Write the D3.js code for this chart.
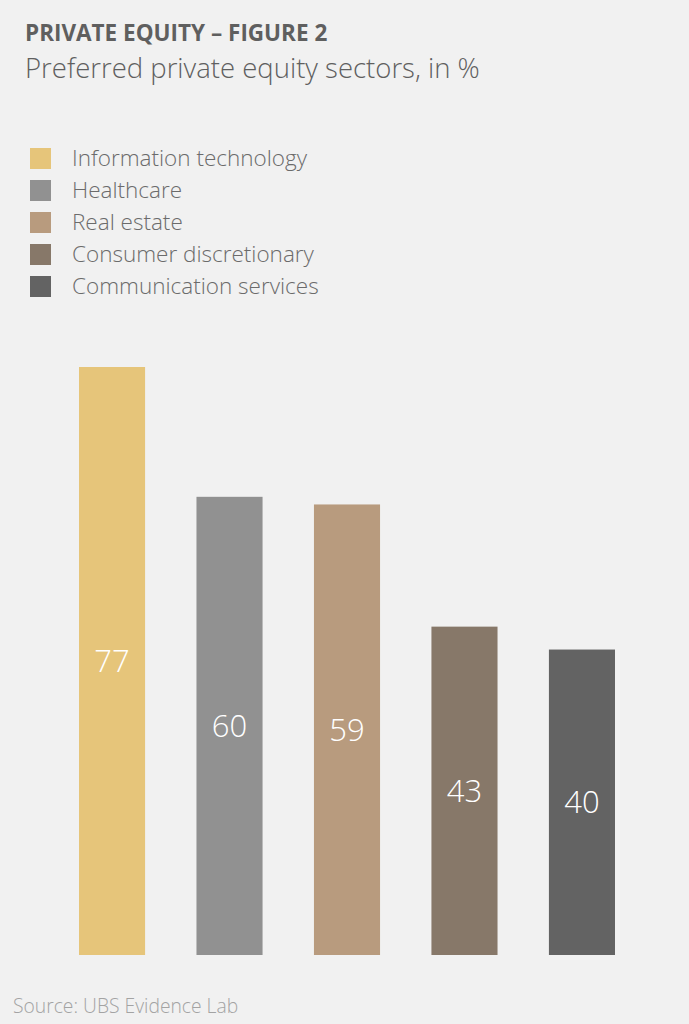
<!DOCTYPE html>
<html>
<head>
<meta charset="utf-8">
<script src="https://cdn.jsdelivr.net/npm/d3@7"></script>
<style>
  body { margin: 0; background: #f1f1f1; }
  svg { display: block; font-family: "Open Sans", "Noto Sans", sans-serif; }
</style>
</head>
<body>
<div id="chart"></div>
<script>
const sectors = ["Information technology", "Healthcare", "Real estate", "Consumer discretionary", "Communication services"];
const shares = [77, 60, 59, 43, 40];
const colors = ["#e6c57a", "#919191", "#b89b7e", "#877869", "#636363"];

const W = 689, H = 1024;
const margin = { top: 367, right: 74, bottom: 69, left: 79 };
const width = W - margin.left - margin.right;
const height = H - margin.top - margin.bottom;

const mainSvg = d3.select("#chart")
  .append("svg")
  .attr("width", W)
  .attr("height", H);

mainSvg.append("rect")
  .attr("width", W)
  .attr("height", H)
  .attr("fill", "#f1f1f1");

// Title block
mainSvg.append("text")
  .attr("x", 25)
  .attr("y", 41)
  .style("font-size", "22.5px")
  .style("font-weight", "bold")
  .style("fill", "#5f5f5f")
  .text("PRIVATE EQUITY – FIGURE 2");

mainSvg.append("text")
  .attr("x", 25)
  .attr("y", 78)
  .style("font-size", "27.5px")
  .style("font-weight", 300)
  .style("fill", "#5f5f5f")
  .text("Preferred private equity sectors, in %");

// Legend
const legend = mainSvg.append("g")
  .attr("transform", "translate(30,148)");

const items = legend.selectAll("g")
  .data(sectors)
  .enter()
  .append("g")
  .attr("transform", (d, i) => `translate(0,${i * 32})`);

items.append("rect")
  .attr("width", 21)
  .attr("height", 21)
  .attr("fill", (d, i) => colors[i]);

items.append("text")
  .attr("x", 42)
  .attr("y", 18)
  .style("font-size", "22.5px")
  .style("font-weight", 300)
  .style("fill", "#6b6b6b")
  .text(d => d);

// Bars
const svg = mainSvg.append("g")
  .attr("transform", `translate(${margin.left},${margin.top})`);

const x = d3.scaleBand()
  .domain(sectors)
  .range([0, width])
  .paddingInner(0.4375)
  .paddingOuter(0);

const y = d3.scaleLinear()
  .domain([0, d3.max(shares)])
  .range([height, 0]);

svg.selectAll(".bar")
  .data(sectors)
  .enter()
  .append("rect")
  .attr("class", "bar")
  .attr("x", d => x(d))
  .attr("width", x.bandwidth())
  .attr("y", (d, i) => y(shares[i]))
  .attr("height", (d, i) => height - y(shares[i]))
  .attr("fill", (d, i) => colors[i]);

svg.selectAll(".val")
  .data(sectors)
  .enter()
  .append("text")
  .attr("class", "val")
  .attr("x", d => x(d) + x.bandwidth() / 2)
  .attr("y", (d, i) => (y(shares[i]) + height) / 2)
  .attr("dy", "0.35em")
  .attr("text-anchor", "middle")
  .style("font-size", "31px")
  .style("font-weight", 300)
  .style("fill", "#ffffff")
  .text((d, i) => shares[i]);

// Source
mainSvg.append("text")
  .attr("x", 13)
  .attr("y", 1013)
  .style("font-size", "19.3px")
  .style("font-weight", 300)
  .style("fill", "#a3a3a3")
  .text("Source: UBS Evidence Lab");
</script>
</body>
</html>
